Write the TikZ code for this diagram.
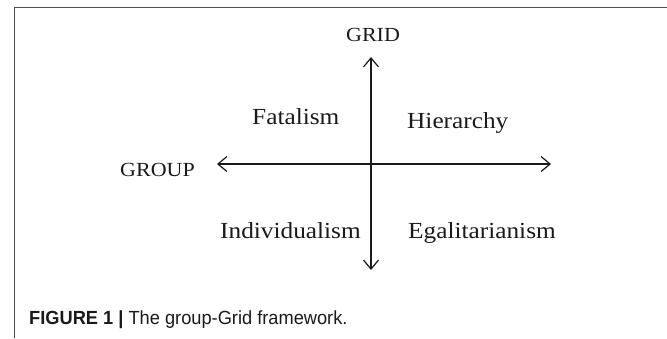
\documentclass[tikz,border=0pt]{standalone}
\usepackage{fontspec}
\setmainfont{Liberation Serif}[FakeStretch=1.1]
\newfontfamily\capfont{Liberation Sans}[FakeStretch=0.96]
\usetikzlibrary{arrows.meta}
\definecolor{framegray}{HTML}{505050}
\definecolor{ink}{HTML}{1A1A1A}
\tikzset{
  quadlabel/.style={inner sep=0pt, anchor=base west, text=ink, font=\fontsize{23}{26}\selectfont},
  axislabel/.style={inner sep=0pt, text=ink, font=\fontsize{20}{23}\selectfont},
  axis/.style={line width=1.2pt, draw=ink,
    {Straight Barb[length=9pt,width=15pt,line width=1.2pt]}-{Straight Barb[length=9pt,width=15pt,line width=1.2pt]}},
  captiontext/.style={inner sep=0pt, anchor=base west, text=ink, font=\capfont\fontsize{19}{22}\selectfont}
}
\begin{document}
\begin{tikzpicture}[x=1pt,y=-1pt]
  \useasboundingbox (0,0) rectangle (667,338);
  % open frame around the figure
  \draw[framegray, line width=1.5pt] (14.5,338) -- (14.5,7.5) -- (667,7.5);

  % axis end points
  \coordinate (gridtop) at (371,57);
  \coordinate (gridbottom) at (371,270);
  \coordinate (groupleft) at (217,164);
  \coordinate (groupright) at (551,164);

  \draw[axis] (gridbottom) -- (gridtop);
  \draw[axis] (groupleft) -- (groupright);

  % axis names
  \node[axislabel, anchor=base] (grid) at (373,41) {GRID};
  \node[axislabel, anchor=base west] (group) at (120,176) {GROUP};

  % the four ways of life
  \node[quadlabel] (fatalism) at (252,124) {Fatalism};
  \node[quadlabel] (hierarchy) at (407,128) {Hierarchy};
  \node[quadlabel] (individualism) at (220,238) {Individualism};
  \node[quadlabel] (egalitarianism) at (408,238) {Egalitarianism};

  % caption
  \node[captiontext] (caption) at (29,324) {\textbf{FIGURE 1 |} The group-Grid framework.};
\end{tikzpicture}
\end{document}
